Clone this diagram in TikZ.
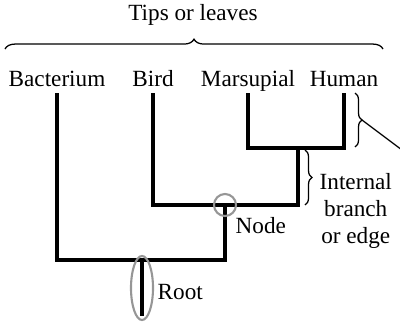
\documentclass[tikz,border=0pt]{standalone}
\usepackage{tikz}
\usepackage{fontspec}
\setmainfont{Liberation Serif}
\usetikzlibrary{decorations.pathreplacing,calc}
\definecolor{ringGrey}{RGB}{150,150,150}
\tikzset{
  leaf/.style={inner sep=1pt, anchor=base, font=\fontsize{16.5}{19}\selectfont},
  lbl/.style={inner sep=1pt, align=center, font=\fontsize{16.5}{19}\selectfont},
  branch/.style={line width=2.4pt, draw=black},
  ring/.style={draw=ringGrey, line width=1.5pt},
  bracket/.style={decorate, line width=0.9pt,
    decoration={brace, amplitude=#1}},
  bracket/.default=6pt
}
\begin{document}
\begin{tikzpicture}[x=0.025cm, y=-0.025cm]
    \useasboundingbox (0,0) rectangle (400,322);

    % leaves
    \node[leaf] (bact)  at (57,86)  {Bacterium};
    \node[leaf] (bird)  at (153,86) {Bird};
    \node[leaf] (mars)  at (248,86) {Marsupial};
    \node[leaf] (human) at (344,86) {Human};
    \node[lbl]  (tips)  at (193,15) {Tips or leaves};

    % internal points of the tree
    \coordinate (mh)   at (298,148);
    \coordinate (node) at (225,205);
    \coordinate (root) at (142,260);
    \coordinate (base) at (142,316);

    % branches
    \draw[branch] ($(mars.base)+(0,7)$) |- (human.base |- mh) -- ($(human.base)+(0,7)$);
    \draw[branch] (mh) |- (bird.base |- node) -- ($(bird.base)+(0,7)$);
    \draw[branch] (node) |- (bact.base |- root) -- ($(bact.base)+(0,7)$);
    \draw[branch] (root) -- (base);

    % circles
    \draw[ring] (node) circle[radius=11];
    \draw[ring] ($(root)!0.5!(base)$) ellipse[x radius=11, y radius=32];

    % braces
    \draw[bracket=7pt] (5,49) -- (383,49);
    \draw[bracket=5pt] (355,93) -- (355,147);
    \draw[bracket=5pt] (305,150) -- (305,205);
    \coordinate (htip) at (362,120);
    \coordinate (off)  at (402,150);
    \draw[line width=0.9pt] (htip) -- (off);

    % labels
    \node[lbl, anchor=west] (nodelbl) at (234,226) {Node};
    \node[lbl, anchor=west] (rootlbl) at (156,292) {Root};
    \node[lbl, anchor=west] (intlbl)  at (318,211) {Internal\\branch\\or edge};
\end{tikzpicture}
\end{document}
